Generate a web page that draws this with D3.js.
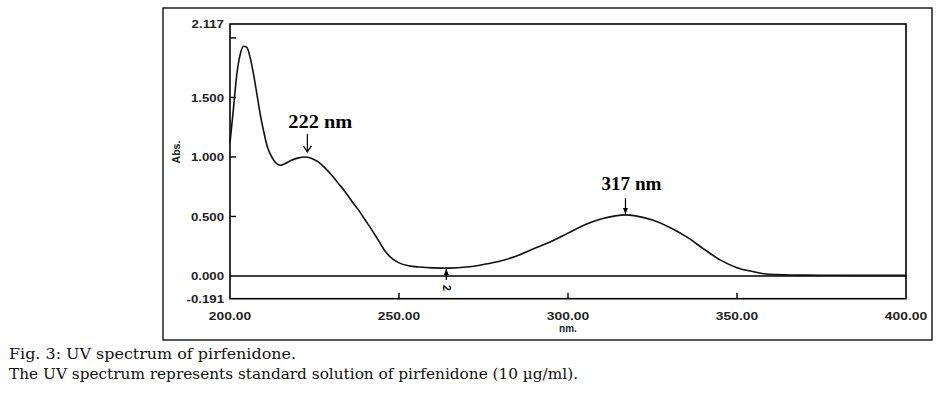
<!DOCTYPE html>
<html><head><meta charset="utf-8">
<script src="https://cdn.jsdelivr.net/npm/d3@7"></script>
<style>body{margin:0;background:#fff}svg{display:block}</style>
</head><body>
<svg id="c" width="943" height="394"></svg>
<script>
const wavelength = [200,201,202,203,204,205,206,207,208,209,210,211,212,213,214,215,216,218,220,222,224,226,228,230,232,234,236,238,240,242,244,246,248,250,253,256,260,265,270,275,280,285,290,295,300,305,310,314,317,320,325,330,335,340,345,350,355,358,362,366,370,380,390,400];
const absorbance = [1.12,1.40,1.69,1.86,1.93,1.92,1.83,1.69,1.52,1.35,1.21,1.09,1.02,0.97,0.94,0.93,0.94,0.97,0.99,1.00,0.99,0.96,0.91,0.85,0.78,0.71,0.63,0.555,0.47,0.385,0.295,0.205,0.145,0.11,0.085,0.075,0.068,0.066,0.075,0.097,0.126,0.17,0.23,0.29,0.36,0.43,0.48,0.505,0.513,0.505,0.47,0.41,0.33,0.23,0.135,0.07,0.035,0.018,0.011,0.008,0.007,0.006,0.005,0.005];
const xTicks = [200,250,300,350,400];
const xTickLabels = ["200.00","250.00","300.00","350.00","400.00"];
const yTicks = [2.117,2.0,1.5,1.0,0.5,0.0,-0.191];
const yTickLabels = ["2.117","","1.500","1.000","0.500","0.000","-0.191"];
const peaks = [{wl:222, ab:1.00, label:"222 nm"},{wl:317, ab:0.513, label:"317 nm"}];
const valley = {wl:264, ab:0.066, label:"2"};
const captions = ["Fig. 3: UV spectrum of pirfenidone.","The UV spectrum represents standard solution of pirfenidone (10 µg/ml)."];
const captionWidths = [287, 569];

const svg = d3.select("#c");
const L=230, R=906, T=24, B=298.7;
const x = d3.scaleLinear().domain([200,400]).range([L,R]);
const y = d3.scaleLinear().domain([-0.191,2.117]).range([B,T]);

function stretch(sel, k){
  const n = sel.node(); const w = n.getComputedTextLength();
  sel.attr("textLength", w*k).attr("lengthAdjust","spacingAndGlyphs");
}

// outer frame
svg.append("rect").attr("x",163).attr("y",8).attr("width",769).attr("height",332)
  .attr("fill","none").attr("stroke","#000").attr("stroke-width",1.3);

// plot box
svg.append("rect").attr("x",L).attr("y",T).attr("width",R-L).attr("height",B-T)
  .attr("fill","none").attr("stroke","#000").attr("stroke-width",1.6);
svg.append("line").attr("x1",L).attr("x2",R).attr("y1",y(0)).attr("y2",y(0))
  .attr("stroke","#000").attr("stroke-width",1.5);

const sans = "'Liberation Sans', Arial, sans-serif";
yTicks.forEach((v,i)=>{
  if (v>-0.19 && v<2.1 && v!==0) {
    svg.append("line").attr("x1",L).attr("x2",L+6).attr("y1",y(v)).attr("y2",y(v))
      .attr("stroke","#000").attr("stroke-width",1.4);
  }
  if (yTickLabels[i]) {
    const t = svg.append("text").attr("x",L-6).attr("y",y(v)).attr("dy","0.36em")
      .attr("text-anchor","end").attr("font-family",sans).attr("font-weight","bold")
      .attr("font-size",11.5).attr("fill","#222").text(yTickLabels[i]);
    stretch(t,1.15);
  }
});
xTicks.forEach((v,i)=>{
  if (v>200 && v<400) {
    svg.append("line").attr("x1",x(v)).attr("x2",x(v)).attr("y1",B).attr("y2",B-6)
      .attr("stroke","#000").attr("stroke-width",1.4);
  }
  const t = svg.append("text").attr("x",x(v)).attr("y",B+21)
    .attr("text-anchor","middle").attr("font-family",sans).attr("font-weight","bold")
    .attr("font-size",11.5).attr("fill","#222").text(xTickLabels[i]);
  stretch(t,1.2);
});
svg.append("text").attr("x",x(300)).attr("y",B+33).attr("text-anchor","middle")
  .attr("font-family",sans).attr("font-weight","bold").attr("font-size",10).attr("fill","#222").text("nm.");
svg.append("text").attr("transform",`translate(180,152) rotate(-90)`).attr("text-anchor","middle")
  .attr("font-family",sans).attr("font-weight","bold").attr("font-size",10.5).attr("fill","#222").text("Abs.");

// curve
const line = d3.line().x((d,i)=>x(wavelength[i])).y(d=>y(d)).curve(d3.curveMonotoneX);
svg.append("path").datum(absorbance).attr("d",line).attr("fill","none")
  .attr("stroke","#111").attr("stroke-width",1.6);

const serif = "'Liberation Serif','Times New Roman',serif";
{
  const p = peaks[0], px = x(p.wl)+3, py = y(p.ab)-5;
  svg.append("text").attr("x",px+13).attr("y",py-24).attr("text-anchor","middle")
    .attr("font-family",serif).attr("font-weight","bold").attr("font-size",18)
    .attr("textLength",64).attr("lengthAdjust","spacingAndGlyphs").text(p.label);
  svg.append("line").attr("x1",px).attr("x2",px).attr("y1",py-18).attr("y2",py)
    .attr("stroke","#000").attr("stroke-width",1.2);
  svg.append("path").attr("d",`M${px-4},${py-6} L${px},${py} L${px+4},${py-6}`)
    .attr("fill","none").attr("stroke","#000").attr("stroke-width",1.2);
}
{
  const p = peaks[1], px = x(p.wl), py = y(p.ab)-1;
  svg.append("text").attr("x",px+6).attr("y",py-24).attr("text-anchor","middle")
    .attr("font-family",serif).attr("font-weight","bold").attr("font-size",18)
    .attr("textLength",60).attr("lengthAdjust","spacingAndGlyphs").text(p.label);
  svg.append("line").attr("x1",px).attr("x2",px).attr("y1",py-16).attr("y2",py)
    .attr("stroke","#000").attr("stroke-width",1.2);
  svg.append("path").attr("d",`M${px-2.5},${py-6} L${px},${py} L${px+2.5},${py-6} Z`)
    .attr("fill","#000");
}
{
  const px = x(valley.wl), top = y(valley.ab)+1;
  svg.append("line").attr("x1",px).attr("x2",px).attr("y1",top).attr("y2",y(0)+4)
    .attr("stroke","#000").attr("stroke-width",1.2);
  svg.append("path").attr("d",`M${px-2.5},${top+6} L${px},${top} L${px+2.5},${top+6} Z`).attr("fill","#000");
  svg.append("text").attr("transform",`translate(${px},${y(0)+12}) rotate(90)`)
    .attr("text-anchor","middle").attr("dy","0.35em")
    .attr("font-family",sans).attr("font-weight","bold").attr("font-size",10.5).text(valley.label);
}

captions.forEach((c,i)=>{
  svg.append("text").attr("x",9).attr("y",359+i*20).attr("font-family","'DejaVu Serif',serif")
    .attr("font-size",14.5).attr("fill","#111")
    .attr("textLength",captionWidths[i]).attr("lengthAdjust","spacingAndGlyphs").text(c);
});
</script>
</body></html>
